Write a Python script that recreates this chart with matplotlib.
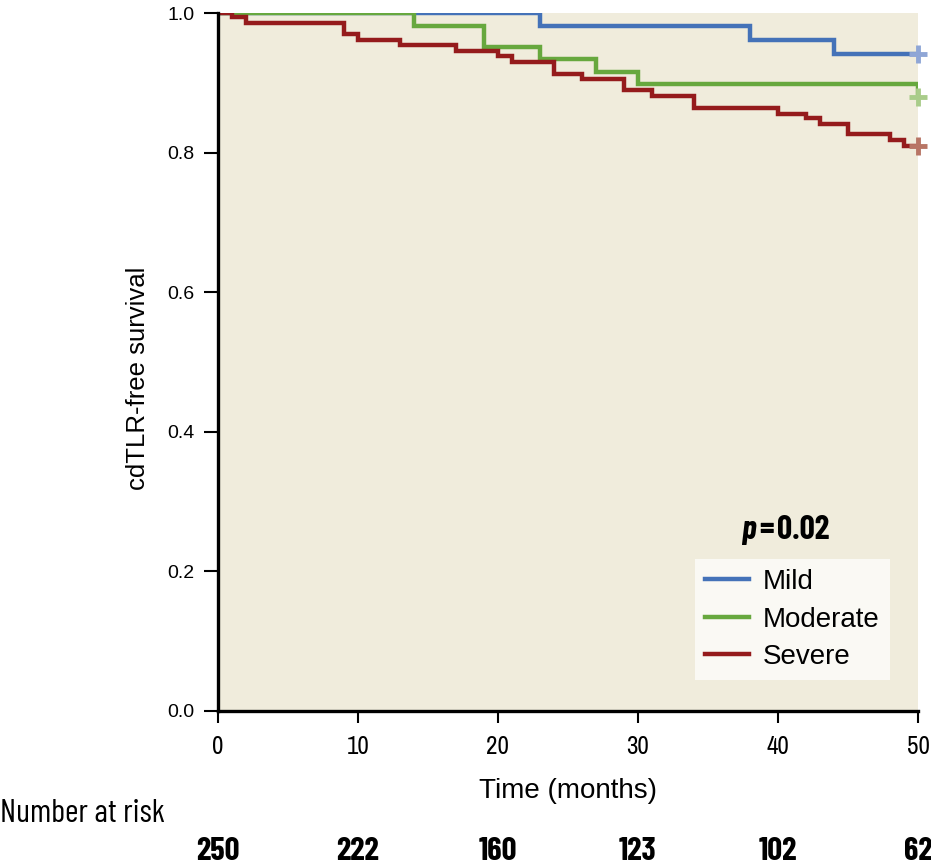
import matplotlib
matplotlib.use("Agg")
import matplotlib.pyplot as plt
from matplotlib.transforms import blended_transform_factory

# Kaplan-Meier steps (time in months, survival)
mild_t = [0, 23, 38, 44, 50]
mild_s = [1.0, 0.981, 0.961, 0.941, 0.941]
moderate_t = [0, 14, 19, 23, 27, 30, 50]
moderate_s = [1.0, 0.982, 0.951, 0.934, 0.916, 0.899, 0.880]
severe_t = [0, 1, 2, 9, 10, 13, 17, 20, 21, 24, 26, 29, 31, 34, 40, 42, 43, 45, 48, 49, 50]
severe_s = [1.0, 0.994, 0.985, 0.970, 0.962, 0.954, 0.946, 0.938, 0.930, 0.913, 0.905,
            0.890, 0.881, 0.864, 0.856, 0.849, 0.841, 0.826, 0.818, 0.810, 0.810]

risk_times = [0, 10, 20, 30, 40, 50]
risk_counts = [250, 222, 160, 123, 102, 62]

groups = ["Mild", "Moderate", "Severe"]
colors = ["#4472B8", "#67A83E", "#951B1C"]
censor_colors = ["#8FA6D6", "#A9CC8A", "#B87565"]

plain = ["Liberation Sans", "DejaVu Sans"]
narrow = ["Archivo Narrow", "Liberation Sans", "DejaVu Sans"]
cond = ["Barlow Condensed", "Archivo Narrow", "DejaVu Sans"]

fig = plt.figure(figsize=(9.31, 8.68), dpi=100)
ax = fig.add_axes([0.234, 0.181, 0.752, 0.804])
ax.set_facecolor("#F0ECDC")

for t, s, c, cc, name in zip([mild_t, moderate_t, severe_t],
                             [mild_s, moderate_s, severe_s],
                             colors, censor_colors, groups):
    ax.step(t, s, where="post", color=c, lw=3.2, label=name, solid_joinstyle="miter")
    ax.plot(t[-1], s[-1], marker="+", ms=13, mew=3.5, color=cc, clip_on=False, zorder=5)

ax.set_xlim(0, 50)
ax.set_ylim(0, 1.0)
ax.set_xticks(risk_times)
ax.set_yticks([0, 0.2, 0.4, 0.6, 0.8, 1.0])
ax.set_yticklabels(["0.0", "0.2", "0.4", "0.6", "0.8", "1.0"])

for side in ["top", "right"]:
    ax.spines[side].set_visible(False)
for side in ["left", "bottom"]:
    ax.spines[side].set_linewidth(2.4)
ax.tick_params(axis="y", direction="out", length=10, width=1.5, pad=7)
ax.tick_params(axis="x", direction="out", length=8.5, width=1.5, pad=9)
for lab in ax.get_yticklabels():
    lab.set_family(plain)
    lab.set_fontsize(14)
for lab in ax.get_xticklabels():
    lab.set_family(narrow)
    lab.set_fontsize(18)

ax.set_xlabel("Time (months)", family=plain, fontsize=20, labelpad=14)
ax.set_ylabel("cdTLR-free survival", family=plain, fontsize=18.5)
ax.yaxis.set_label_coords(-0.097, 0.476)

leg = ax.legend(loc="lower right", bbox_to_anchor=(0.96, 0.044), frameon=True,
                fancybox=False, edgecolor="none", facecolor="#FAF9F4", framealpha=1,
                prop={"family": plain, "size": 20}, handlelength=1.6, handletextpad=0.5,
                labelspacing=0.42, borderpad=0.36, borderaxespad=0)
for line in leg.get_lines():
    line.set_linewidth(3.2)

# p-value: italic p, then "=", then bold "0.02"
p1 = ax.text(0.748, 0.246, "p", transform=ax.transAxes, family=cond, fontsize=24,
             fontweight="bold", style="italic", ha="left", va="baseline")
p2 = ax.annotate("=", xy=(1, 0), xycoords=p1, xytext=(2.5, 0), textcoords="offset points",
                 family=cond, fontsize=24, fontweight="bold", ha="left", va="bottom")
ax.annotate("0.02", xy=(1, 0), xycoords=p2, xytext=(2.5, 0), textcoords="offset points",
            family=cond, fontsize=24, fontweight="bold", ha="left", va="bottom")

# number at risk table
fig.text(0.0, 1 - 822 / 868, "Number at risk", family=cond, fontsize=23.5, ha="left",
         va="baseline")
trans = blended_transform_factory(ax.transData, fig.transFigure)
for t, n in zip(risk_times, risk_counts):
    ax.text(t, 1 - 860 / 868, str(n), transform=trans, family=cond, fontsize=23.5,
            fontweight="bold", ha="center", va="baseline", clip_on=False)

fig.savefig("out.png", dpi=100)
